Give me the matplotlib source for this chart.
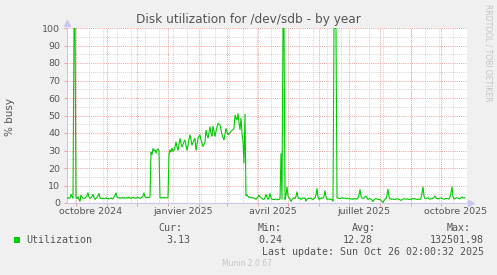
import matplotlib
matplotlib.use("Agg")
import matplotlib.pyplot as plt
import matplotlib.dates as mdates
from matplotlib.patches import Rectangle
import pandas as pd

# ---------------- data ----------------
start_date = "2024-09-22"
utilization = [
    2.9, 3.1, 2.6, 3.0, 5.1, 3.4, 2.7, 100, 100, 3.2, 2.5, 3.6, 2.2, 0.8, 4.6, 3.3, 2.8, 2.4, 2.7, 3.5,
    4.2, 5.9, 3.4, 2.7, 3.0, 3.8, 5.0, 3.1, 2.0, 2.6, 3.2, 4.1, 5.5, 3.0, 2.6, 2.5, 2.8, 2.4, 2.6, 3.0,
    2.5, 2.7, 2.3, 2.6, 2.9, 2.4, 2.6, 3.4, 4.2, 5.9, 3.6, 3.0, 2.8, 3.1, 2.7, 2.9, 3.3, 2.6, 3.0, 2.8,
    3.1, 2.7, 3.4, 2.9, 2.6, 3.0, 3.2, 2.8, 3.0, 2.7, 3.3, 2.9, 3.0, 2.6, 3.1, 3.4, 4.0, 5.9, 3.5, 3.1,
    3.0, 3.2, 3.0, 3.4, 29.0, 27.5, 31.2, 29.8, 30.5, 28.4, 30.2, 31.0, 30.0, 3.0, 2.8, 3.1, 2.9, 3.2, 2.8, 3.0,
    2.9, 3.3, 28.0, 30.5, 29.0, 31.5, 29.5, 30.2, 31.9, 35.0, 32.0, 30.0, 33.5, 37.0, 34.0, 32.0, 33.5, 35.0, 36.0, 33.0,
    30.0, 33.0, 36.5, 39.0, 36.0, 33.0, 34.5, 36.0, 37.0, 30.0, 33.5, 37.0, 38.0, 39.0, 36.0, 34.0, 32.2, 33.5, 35.0, 41.7,
    39.0, 37.0, 40.0, 43.6, 40.0, 38.0, 44.0, 41.0, 38.0, 41.0, 43.5, 45.5, 45.0, 44.6, 41.7, 39.0, 37.5, 36.0, 39.5, 42.7,
    40.5, 39.0, 39.5, 40.0, 41.0, 41.5, 42.0, 42.7, 50.3, 48.5, 47.4, 51.2, 46.0, 41.7, 48.6, 40.0, 35.0, 22.7, 51.0, 4.0,
    4.6, 3.8, 3.2, 3.5, 2.9, 3.1, 3.0, 2.6, 2.4, 2.1, 2.8, 3.6, 4.6, 3.4, 3.0, 2.6, 2.2, 2.0, 3.3, 5.0,
    3.1, 2.0, 3.2, 5.5, 3.0, 2.0, 2.2, 1.9, 2.0, 2.3, 1.8, 2.1, 2.0, 2.4, 28.4, 2.0, 100, 100, 2.0, 4.5,
    9.3, 4.0, 3.0, 2.2, 0.8, 2.1, 2.6, 3.0, 2.5, 3.8, 6.5, 3.2, 2.5, 2.8, 2.0, 2.4, 2.9, 2.6, 3.0, 1.0,
    2.2, 2.7, 2.4, 2.5, 2.9, 2.3, 2.0, 2.6, 3.0, 4.5, 8.4, 3.5, 2.0, 2.4, 2.8, 3.0, 2.6, 4.0, 7.0, 3.4,
    2.0, 2.4, 2.2, 2.0, 2.3, 1.8, 1.0, 100, 100, 100, 2.8, 3.0, 2.6, 2.5, 2.8, 3.0, 2.6, 2.9, 2.7, 2.5,
    2.8, 2.6, 2.3, 2.5, 2.2, 2.4, 2.1, 2.6, 2.3, 2.4, 2.2, 2.9, 4.5, 7.8, 4.0, 2.8, 2.5, 3.0, 3.5, 4.0,
    2.8, 2.0, 2.4, 2.6, 2.2, 1.6, 0.8, 1.8, 2.3, 2.5, 2.3, 2.0, 2.2, 2.0, 1.5, 0.9, 0.24, 1.4, 2.2, 2.5,
    4.5, 8.0, 3.5, 2.2, 2.4, 2.1, 2.3, 2.0, 2.0, 2.4, 2.2, 2.5, 2.0, 1.8, 1.5, 1.9, 2.2, 2.4, 2.3, 2.1,
    2.4, 2.2, 2.0, 2.3, 2.0, 2.4, 2.6, 2.3, 2.5, 2.2, 2.0, 2.3, 2.1, 2.0, 3.0, 5.5, 9.3, 4.0, 2.6, 2.5,
    2.8, 3.0, 2.4, 2.2, 2.5, 2.3, 2.8, 3.4, 4.0, 3.0, 2.5, 2.3, 2.6, 2.8, 3.0, 2.6, 2.4, 2.2, 2.3, 2.6,
    2.5, 2.5, 2.2, 3.5, 6.0, 9.3, 3.6, 2.2, 2.6, 2.8, 3.0, 2.7, 2.4, 2.5, 2.9, 3.5, 3.0, 2.7, 3.13,
]
x_start = "2024-09-22"
x_end = "2025-10-27"
label_dates = ["2024-10-16", "2025-01-16", "2025-04-16", "2025-07-16", "2025-10-16"]
label_texts = ["octobre 2024", "janvier 2025", "avril 2025", "juillet 2025", "octobre 2025"]
y_ticks = [0, 10, 20, 30, 40, 50, 60, 70, 80, 90, 100]

title = "Disk utilization for /dev/sdb - by year"
series_name = "Utilization"
stat_heads = ["Cur:", "Min:", "Avg:", "Max:"]
stat_vals = ["3.13", "0.24", "12.28", "132501.98"]
last_update = "Last update: Sun Oct 26 02:00:32 2025"

# ---------------- style ----------------
W, H = 497, 275
BG = "#F0F0F0"
GREEN = "#00CC00"
MAJOR = "#E8A0A0"
MINOR = "#D2D2D2"
AXIS = "#C8C8F0"
TXT = "#555555"

fig = plt.figure(figsize=(W / 100, H / 100), dpi=100, facecolor=BG)
L, R, T, B = 67, 467, 28, 203
ax = fig.add_axes([L / W, 1 - B / H, (R - L) / W, (B - T) / H])
ax.set_facecolor("white")

dates = pd.date_range(start_date, periods=len(utilization), freq="D")
ax.plot(dates, utilization, color=GREEN, lw=0.8, solid_joinstyle="miter", zorder=5)

ax.set_xlim(pd.Timestamp(x_start), pd.Timestamp(x_end))
ax.set_ylim(0, 100)

# grid
dot = (0, (1, 1.2))
for y in range(5, 100, 10):
    ax.axhline(y, color=MINOR, lw=0.7, ls=dot, zorder=1)
for y in y_ticks[1:]:
    ax.axhline(y, color=MAJOR, lw=0.7, ls=dot, zorder=2)
minor_x = pd.date_range("2024-09-30", x_end, freq="14D")
month_x = pd.date_range("2024-10-01", x_end, freq="MS")
for d in minor_x:
    ax.axvline(d, color=MINOR, lw=0.7, ls=dot, zorder=1)
for d in month_x:
    ax.axvline(d, color=MAJOR, lw=0.7, ls=dot, zorder=2)

# ticks
ax.set_yticks(y_ticks)
ax.set_yticklabels([str(v) for v in y_ticks], fontsize=6.8, color=TXT)
ax.tick_params(axis="y", length=2, width=0.7, color=MAJOR, pad=3)
ax.set_xticks(list(month_x))
ax.set_xticklabels([])
ax.tick_params(axis="x", which="major", length=2, width=0.7, color=MAJOR, direction="out")
ax.set_xticks([pd.Timestamp(d) for d in label_dates], minor=True)
ax.set_xticklabels(label_texts, minor=True, fontsize=6.8, color=TXT)
ax.tick_params(axis="x", which="minor", length=0, pad=3)

for s in ["top", "right"]:
    ax.spines[s].set_visible(False)
for s in ["left", "bottom"]:
    ax.spines[s].set_color(AXIS)
    ax.spines[s].set_linewidth(0.8)

# axis arrows
ax.plot([0], [1.03], marker="^", color=AXIS, ms=4, transform=ax.transAxes, clip_on=False)
ax.plot([1.01], [0], marker=">", color=AXIS, ms=4, transform=ax.transAxes, clip_on=False)

ax.set_ylabel("% busy", fontsize=7.5, color=TXT)
ax.yaxis.set_label_coords(-(L - 15.5) / (R - L), 0.49)

def fx(px):
    return px / W

def fy(py):
    return 1 - py / H

fig.text(fx(248), fy(19), title, fontsize=8.7, color=TXT, ha="center", va="center")

mono = "DejaVu Sans Mono"
fs = 7.2
fig.patches.append(Rectangle((fx(14), fy(243)), 6 / W, 6 / H, transform=fig.transFigure,
                             facecolor=GREEN, edgecolor="none"))
fig.text(fx(26), fy(240), series_name, family=mono, fontsize=fs, color=TXT, va="center")
head_x = [158, 258, 352, 447]
val_x = [166, 258, 343, 430]
for hx, h in zip(head_x, stat_heads):
    fig.text(fx(hx), fy(228), h, family=mono, fontsize=fs, color=TXT, va="center")
for vx, v in zip(val_x, stat_vals):
    fig.text(fx(vx), fy(240), v, family=mono, fontsize=fs, color=TXT, va="center")
fig.text(fx(262), fy(252), last_update, family=mono, fontsize=fs, color=TXT, va="center")
fig.text(fx(247), fy(263), "Munin 2.0.67", fontsize=5.5, color="#C4C4C4", ha="center", va="center")
fig.text(fx(488), fy(53), "RRDTOOL / TOBI OETIKER", fontsize=5.5, color="#C4C4C4",
         rotation=-90, ha="center", va="center")

fig.savefig("out.png", dpi=100, facecolor=BG)
